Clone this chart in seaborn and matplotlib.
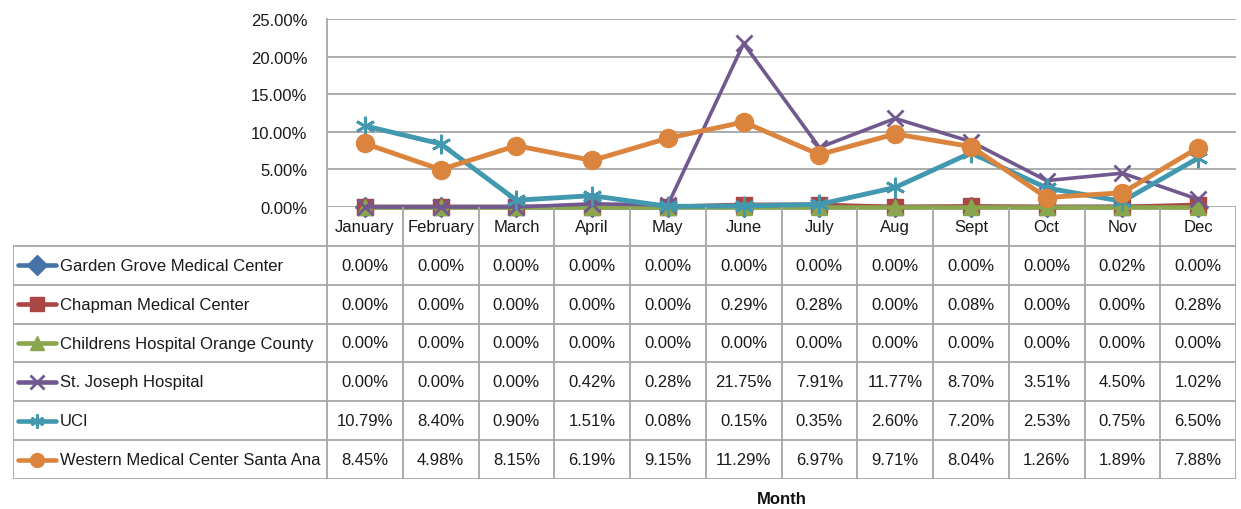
import matplotlib
matplotlib.use("Agg")
import matplotlib.pyplot as plt
import numpy as np
import pandas as pd
import seaborn as sns
from matplotlib.ticker import PercentFormatter

months = ["January", "February", "March", "April", "May", "June",
          "July", "Aug", "Sept", "Oct", "Nov", "Dec"]

hospitals = [
    "Garden Grove Medical Center",
    "Chapman Medical Center",
    "Childrens Hospital Orange County",
    "St. Joseph Hospital",
    "UCI",
    "Western Medical Center Santa Ana",
]

garden_grove = [0.00, 0.00, 0.00, 0.00, 0.00, 0.00, 0.00, 0.00, 0.00, 0.00, 0.02, 0.00]
chapman = [0.00, 0.00, 0.00, 0.00, 0.00, 0.29, 0.28, 0.00, 0.08, 0.00, 0.00, 0.28]
childrens = [0.00, 0.00, 0.00, 0.00, 0.00, 0.00, 0.00, 0.00, 0.00, 0.00, 0.00, 0.00]
st_joseph = [0.00, 0.00, 0.00, 0.42, 0.28, 21.75, 7.91, 11.77, 8.70, 3.51, 4.50, 1.02]
uci = [10.79, 8.40, 0.90, 1.51, 0.08, 0.15, 0.35, 2.60, 7.20, 2.53, 0.75, 6.50]
western = [8.45, 4.98, 8.15, 6.19, 9.15, 11.29, 6.97, 9.71, 8.04, 1.26, 1.89, 7.88]

series = [garden_grove, chapman, childrens, st_joseph, uci, western]
colors = ["#4572A7", "#AA4643", "#89A54E", "#71588F", "#4198AF", "#DB843D"]
markers = ["D", "s", "^", "x", (6, 2, 0), "o"]
msizes = [10, 11, 11, 12, 14, 13]
mews = [1, 1, 1, 2, 2, 1]
lwidths = [3.3, 3.3, 3.3, 2.6, 3.5, 3.5]

df = pd.DataFrame(
    [(h, i, v / 100) for h, vals in zip(hospitals, series) for i, v in enumerate(vals)],
    columns=["hospital", "month_idx", "rate"],
)

sns.set_theme(style="white")
plt.rcParams["font.family"] = ["Liberation Sans", "DejaVu Sans"]

W, H = 1241, 510
FS = 12
TXT = "#1a1a1a"
fig = plt.figure(figsize=(W / 100, H / 100), dpi=100)

grid_c = "#a6a6a6"
x0, x1 = 327, 1236
ax = fig.add_axes([x0 / W, 1 - 208 / H, (x1 - x0) / W, (208 - 20) / H])
for h, c, m, ms, mew, lw in zip(hospitals, colors, markers, msizes, mews, lwidths):
    sub = df[df["hospital"] == h]
    sns.lineplot(data=sub, x="month_idx", y="rate", ax=ax, color=c, marker=m,
                 markersize=ms, markeredgecolor=c, markeredgewidth=mew,
                 linewidth=lw, clip_on=False, legend=False)

ax.set_xlim(-0.5, 11.5)
ax.set_ylim(0, 0.25)
ax.set_yticks(np.arange(0, 0.26, 0.05))
ax.yaxis.set_major_formatter(PercentFormatter(1.0, decimals=2))
ax.set_xticks([])
ax.set_xlabel("")
ax.set_ylabel("")
ax.grid(axis="y", color=grid_c, linewidth=1.3)
ax.set_axisbelow(True)
ax.tick_params(axis="y", length=0, pad=14, labelsize=FS, labelcolor=TXT)
for s in ["top", "right", "bottom"]:
    ax.spines[s].set_visible(False)
ax.spines["left"].set_color(grid_c)
ax.spines["left"].set_linewidth(1.3)

# data table below the chart
col_w = (x1 - x0) / 12
tleft = -0.5 - (x0 - 13) / col_w
tax = fig.add_axes([13 / W, 1 - 480 / H, (x1 - 13) / W, (480 - 208) / H])
tax.set_xlim(tleft, 11.5)
tax.set_ylim(6.5, -0.5)
tax.axis("off")

lk = dict(color=grid_c, linewidth=1.3, solid_capstyle="butt")
for r in range(1, 8):
    tax.plot([tleft, 11.5], [r - 0.5, r - 0.5], **lk)
tax.plot([tleft, tleft], [0.5, 6.5], **lk)
for b in np.arange(-0.5, 12, 1):
    tax.plot([b, b], [-0.5, 6.5], **lk)

for i, mname in enumerate(months):
    tax.text(i, 0, mname, ha="center", va="center", fontsize=FS, color=TXT)

key_l = tleft + 5 / col_w
key_r = tleft + 43 / col_w
for r, (h, vals, c, m, mew) in enumerate(zip(hospitals, series, colors, markers, mews), start=1):
    tax.plot([key_l, key_r], [r, r], color=c, linewidth=3.3)
    tax.plot([(key_l + key_r) / 2], [r], marker=m, color=c, markersize=10,
             markeredgecolor=c, markeredgewidth=mew)
    tax.text(key_r + 4 / col_w, r, h, ha="left", va="center", fontsize=FS, color=TXT)
    for i, v in enumerate(vals):
        tax.text(i, r, f"{v:.2f}%", ha="center", va="center", fontsize=FS, color=TXT)

fig.text(782 / W, 1 - 500 / H, "Month", ha="center", va="center",
         fontsize=FS, fontweight="bold", color="#111111")

fig.savefig("out.png", dpi=100)
